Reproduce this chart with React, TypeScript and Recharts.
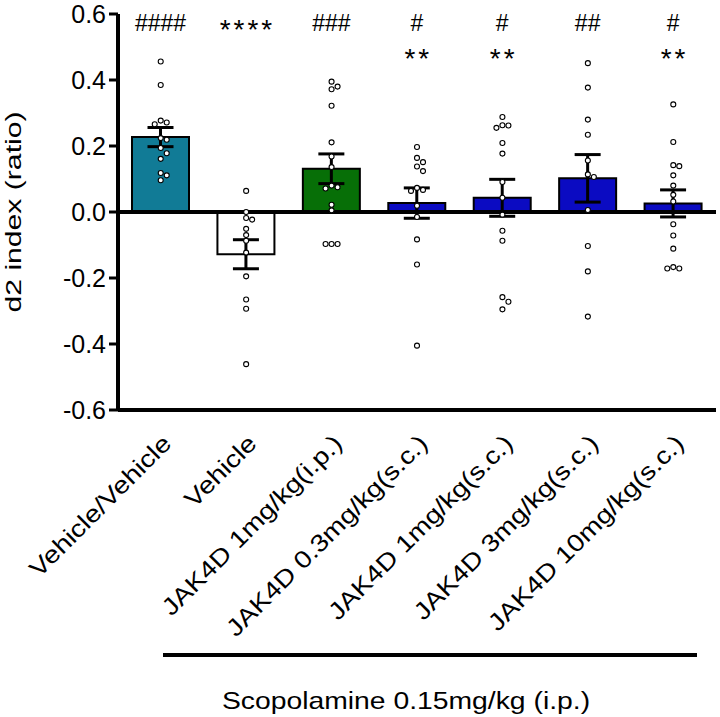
import {
  ComposedChart, Bar, Cell, ErrorBar, LabelList, Scatter,
  XAxis, YAxis, ReferenceLine,
} from 'recharts';

// Treatment groups, left to right
const groups = [
  'Vehicle/Vehicle',
  'Vehicle',
  'JAK4D 1mg/kg(i.p.)',
  'JAK4D 0.3mg/kg(s.c.)',
  'JAK4D 1mg/kg(s.c.)',
  'JAK4D 3mg/kg(s.c.)',
  'JAK4D 10mg/kg(s.c.)',
];

// Group mean and SEM of the d2 index
const means = [0.227, -0.128, 0.131, 0.027, 0.043, 0.102, 0.026];
const sems = [0.029, 0.044, 0.045, 0.046, 0.056, 0.072, 0.041];

// Individual animals
const vehVehPoints = [0.456, 0.385, 0.277, 0.271, 0.266, 0.224, 0.219, 0.194, 0.178, 0.161, 0.118, 0.111, 0.096];
const vehPoints = [0.064, 0.0, -0.018, -0.023, -0.051, -0.07, -0.087, -0.123, -0.195, -0.265, -0.293, -0.461];
const jak1ipPoints = [0.395, 0.38, 0.372, 0.322, 0.211, 0.168, 0.136, 0.08, 0.075, 0.071, 0.022, 0.005, -0.097, -0.097, -0.097];
const jak03scPoints = [0.197, 0.164, 0.151, 0.138, 0.124, 0.073, 0.067, 0.064, 0.019, -0.015, -0.083, -0.159, -0.405];
const jak1scPoints = [0.288, 0.263, 0.262, 0.255, 0.209, 0.177, 0.091, 0.043, -0.008, -0.057, -0.087, -0.258, -0.272, -0.295];
const jak3scPoints = [0.451, 0.377, 0.28, 0.234, 0.156, 0.114, 0.106, 0.006, -0.103, -0.18, -0.317];
const jak10scPoints = [0.326, 0.212, 0.142, 0.139, 0.111, 0.08, 0.052, 0.032, -0.037, -0.071, -0.111, -0.167, -0.171, -0.171];

const pointSets = [vehVehPoints, vehPoints, jak1ipPoints, jak03scPoints, jak1scPoints, jak3scPoints, jak10scPoints];

// Significance marks: # vs Vehicle, * vs Vehicle/Vehicle
const hashMarks = ['####', '', '###', '#', '#', '##', '#'];
const starMarks = ['', '****', '', '**', '**', '', '**'];

const yTicks = [-0.6, -0.4, -0.2, 0, 0.2, 0.4, 0.6];

const barColors = ['#117b96', '#ffffff', '#076f07', '#0b0bc2', '#0b0bc2', '#0b0bc2', '#0b0bc2'];

const W = 720;
const H = 717;
const M_TOP = 14;
const Y_AXIS_W = 118;
const X_AXIS_H = 307;
const PX_PER_UNIT = (H - M_TOP - X_AXIS_H) / 1.2;
const BAND_PX = (W - 4 - Y_AXIS_W) / groups.length;

// simple beeswarm: nudge points sideways when they would overlap
function spread(values: number[]) {
  const placed: { dx: number; py: number }[] = [];
  const steps = [0, 6, -6, 12, -12, 18, -18];
  return values.map((v) => {
    const py = v * PX_PER_UNIT;
    const dx = steps.find((s) =>
      placed.every((p) => Math.hypot(p.dx - s, p.py - py) >= 5.6)
    ) ?? 0;
    placed.push({ dx, py });
    return dx / BAND_PX;
  });
}

const rows = groups.map((name, i) => ({
  name,
  mean: means[i],
  sem: sems[i],
  hash: hashMarks[i],
  star: starMarks[i],
}));

const dots = pointSets.flatMap((vals, i) => {
  const offs = spread(vals);
  return vals.map((v, j) => ({ x: i + offs[j], y: v }));
});

const FONT = '"Liberation Sans", Arial, sans-serif';

const GroupTick = (props: any) => {
  const { x, y, payload } = props;
  return (
    <g transform={`translate(${x + 12},${y + 35})`}>
      <text
        textAnchor="end"
        fontSize={24}
        fill="#000"
        transform="rotate(-45) scale(1.17,1)"
      >
        {payload.value}
      </text>
    </g>
  );
};

const renderHash = (p: any) => {
  if (!p.value) return null;
  return (
    <text x={Number(p.x) + Number(p.width) / 2} y={31} textAnchor="middle" fontSize={23} fill="#000">
      {p.value}
    </text>
  );
};

const renderStar = (p: any) => {
  if (!p.value) return null;
  const hasHash = !!hashMarks[p.index];
  return (
    <text
      x={Number(p.x) + Number(p.width) / 2 + 1.5}
      y={hasHash ? 68 : 39}
      textAnchor="middle"
      fontSize={28}
      letterSpacing={3}
      fill="#000"
    >
      {p.value}
    </text>
  );
};

const Dot = (props: any) => (
  <circle cx={props.cx} cy={props.cy} r={2.5} fill="#fff" stroke="#000" strokeWidth={1.1} />
);

export default function App() {
  return (
    <div style={{ position: 'absolute', left: 0, top: 0, fontFamily: FONT, background: '#fff' }}>
      <ComposedChart
        width={W}
        height={H}
        data={rows}
        margin={{ top: M_TOP, right: 4, bottom: 0, left: 0 }}
      >
        <XAxis
          xAxisId="cat"
          dataKey="name"
          type="category"
          height={X_AXIS_H}
          axisLine={{ stroke: '#000', strokeWidth: 4 }}
          tickLine={false}
          tickSize={0}
          tickMargin={0}
          interval={0}
          tick={<GroupTick />}
        />
        <XAxis
          xAxisId="pts"
          dataKey="x"
          type="number"
          domain={[-0.5, 6.5]}
          allowDataOverflow
          hide
        />
        <YAxis
          width={Y_AXIS_W}
          domain={[-0.6, 0.6]}
          ticks={yTicks}
          interval={0}
          allowDataOverflow
          axisLine={{ stroke: '#000', strokeWidth: 4 }}
          tickLine={{ stroke: '#000', strokeWidth: 3 }}
          tickSize={9}
          tickMargin={3}
          tick={{ fill: '#000', fontSize: 25 }}
          tickFormatter={(v: number) => v.toFixed(1)}
        />
        <Bar
          xAxisId="cat"
          dataKey="mean"
          barSize={57}
          stroke="#000"
          strokeWidth={2}
          isAnimationActive={false}
        >
          {rows.map((r, i) => (
            <Cell key={r.name} fill={barColors[i]} />
          ))}
          <ErrorBar dataKey="sem" direction="y" width={13} stroke="#000" strokeWidth={3} />
          <LabelList dataKey="hash" content={renderHash} />
          <LabelList dataKey="star" content={renderStar} />
        </Bar>
        <ReferenceLine xAxisId="cat" y={0} stroke="#000" strokeWidth={4} />
        <Scatter
          xAxisId="pts"
          data={dots}
          dataKey="y"
          shape={<Dot />}
          isAnimationActive={false}
        />
        <g>
          <text transform="translate(21,212) rotate(-90) scale(1.37,1)" textAnchor="middle" fontSize={22} fill="#000">
            d2 index (ratio)
          </text>
          <line x1={163} y1={655} x2={697} y2={655} stroke="#000" strokeWidth={4} />
          <text transform="translate(406,709) scale(1.18,1)" textAnchor="middle" fontSize={24} fill="#000">
            Scopolamine 0.15mg/kg (i.p.)
          </text>
        </g>
      </ComposedChart>
    </div>
  );
}
